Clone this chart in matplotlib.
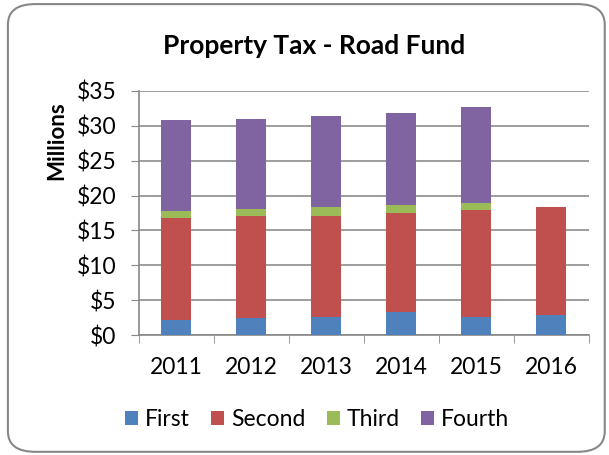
import matplotlib.pyplot as plt
import numpy as np
from matplotlib.patches import FancyBboxPatch

years = ['2011', '2012', '2013', '2014', '2015', '2016']
first = [2.2, 2.44, 2.54, 3.35, 2.64, 2.83]
second = [14.55, 14.56, 14.6, 14.18, 15.36, 15.56]
third = [1.05, 1.1, 1.25, 1.05, 0.87, 0.0]
fourth = [13.0, 12.93, 13.0, 13.3, 13.8, 0.0]

series = [('First', first, '#4f81bd'),
          ('Second', second, '#c0504d'),
          ('Third', third, '#9bbb59'),
          ('Fourth', fourth, '#8064a2')]

plt.rcParams['font.family'] = ['Lato', 'DejaVu Sans']

fig = plt.figure(figsize=(6.09, 4.55), dpi=100)
ax = fig.add_axes([0.228, 0.2637, 0.739, 0.5363])

border = FancyBboxPatch((0.013, 0.007), 0.98, 0.984, boxstyle='round,pad=0,rounding_size=0.045',
                        transform=fig.transFigure, facecolor='white', edgecolor='#878787',
                        linewidth=1.5, zorder=-10)
fig.patches.append(border)

x = np.arange(len(years))
bottom = np.zeros(len(years))
for name, vals, color in series:
    vals = np.array(vals)
    ax.bar(x, vals, 0.4, bottom=bottom, color=color, label=name, zorder=3)
    bottom += vals

ax.set_xlim(-0.5, len(years) - 0.5)
ax.set_ylim(0, 35)
ax.set_yticks(np.arange(0, 36, 5))
ax.set_yticklabels(['$%d' % v for v in range(0, 36, 5)], fontsize=16.5)
ax.set_xticks(x)
ax.set_xticklabels(years, fontsize=16.5)
ax.set_xticks(np.arange(-0.5, len(years), 1), minor=True)
ax.tick_params(axis='x', which='major', length=0, pad=16)
ax.tick_params(axis='x', which='minor', length=6, color='#888888')
ax.tick_params(axis='y', length=6, color='#888888', pad=10)
ax.yaxis.grid(True, color='#8c8c8c', linewidth=1.2, zorder=0)
for s in ['top', 'right']:
    ax.spines[s].set_visible(False)
for s in ['left', 'bottom']:
    ax.spines[s].set_color('#888888')
    ax.spines[s].set_linewidth(1.2)

fig.text(0.094, 0.692, 'Millions', rotation=90, ha='center', va='center',
         fontsize=16, fontweight='bold')
fig.text(0.516, 0.9, 'Property Tax - Road Fund', ha='center', va='center',
         fontsize=19, fontweight='bold')
fig.legend(loc='center', bbox_to_anchor=(0.521, 0.078), ncol=4, frameon=False,
           fontsize=16.5, handlelength=0.55, handleheight=0.55, handletextpad=0.3,
           columnspacing=0.95)

fig.savefig('out.png', dpi=100)
